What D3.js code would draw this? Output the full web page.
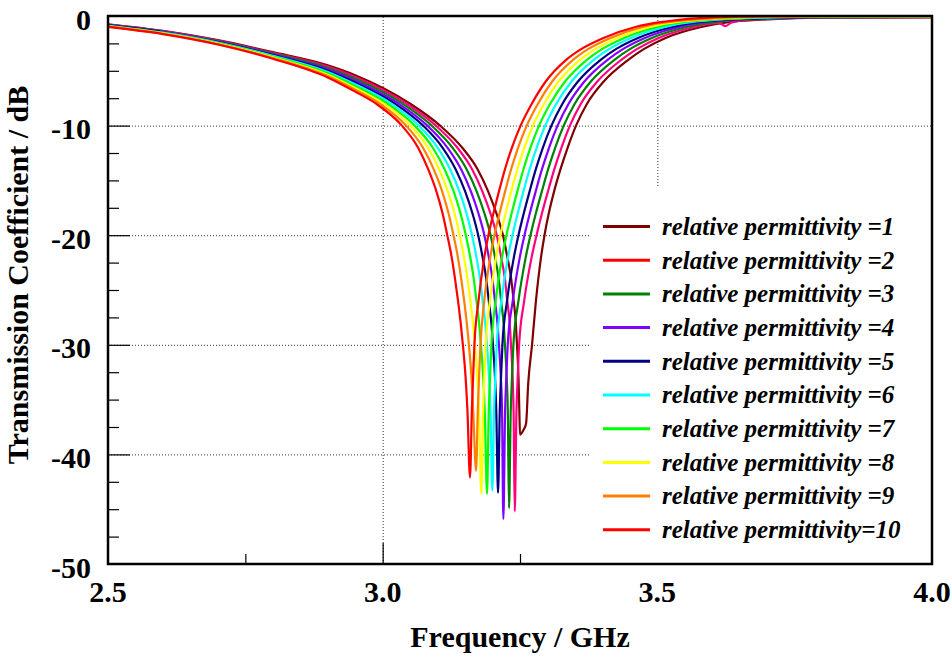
<!DOCTYPE html>
<html>
<head>
<meta charset="utf-8">
<script src="https://cdn.jsdelivr.net/npm/d3@7"></script>
<style>
  body { margin: 0; background: #fff; }
  svg { display: block; font-family: "Liberation Serif", "Times New Roman", serif; }
</style>
</head>
<body>
<div id="chart"></div>
<script>
// Transmission coefficient (dB) vs frequency (GHz), one series per relative permittivity
const eps1 = [[2.5,-0.75],[2.6,-1.35],[2.7,-2.2],[2.8,-3.3],[2.9,-4.5],[2.95,-5.4],
  [3.05,-8],[3.1045,-10],[3.1446,-12],[3.173,-14],[3.192,-16],[3.207,-18],[3.219,-20],[3.227,-22],[3.234,-24],[3.2385,-26],[3.2424,-28],[3.2445,-30],[3.2473,-33],[3.2488,-36],[3.25,-38.2],
  [3.256,-37.8],[3.261,-37.2],[3.265,-33.5],[3.2719,-30],[3.279,-26],[3.2883,-22],[3.2946,-20],[3.3024,-18],[3.3121,-16],[3.3236,-14],[3.3368,-12],[3.352,-10],[3.372,-8],[3.402,-6],[3.447,-4],[3.476,-3],[3.515,-2],
  [3.58,-1],[3.64,-0.5],[3.7,-0.3],[3.8,-0.15],[4.0,-0.12]];
const eps2 = [[2.5,-0.78],[2.6,-1.38],[2.7,-2.24],[2.8,-3.37],[2.9,-4.62],[2.95,-5.57],
  [3.0431,-8],[3.0968,-10],[3.1357,-12],[3.163,-14],[3.1815,-16],[3.1961,-18],[3.2077,-20],[3.2157,-22],[3.2226,-24],[3.2268,-26],[3.2312,-28],[3.2336,-30],[3.2366,-33],[3.2383,-36],[3.2404,-45.2],
  [3.2436,-36],[3.2458,-33],[3.2484,-30],[3.2576,-26],[3.2712,-22],[3.2801,-20],[3.29,-18],[3.3009,-16],[3.3124,-14],[3.3255,-12],[3.3408,-10],[3.3608,-8],[3.3903,-6],[3.4344,-4],[3.4633,-3],[3.5024,-2],
  [3.5667,-1],[3.595,-0.7],[3.611,-0.62],[3.624,-0.92],[3.635,-0.6],[3.663,-0.36],[3.7,-0.27],[3.8,-0.13],[4.0,-0.11]];
const eps3 = [[2.5,-0.81],[2.6,-1.42],[2.7,-2.29],[2.8,-3.43],[2.9,-4.74],[2.95,-5.73],
  [3.0362,-8],[3.0891,-10],[3.1268,-12],[3.153,-14],[3.1711,-16],[3.1852,-18],[3.1965,-20],[3.2045,-22],[3.2113,-24],[3.2156,-26],[3.2201,-28],[3.2226,-30],[3.2259,-33],[3.2278,-36],[3.23,-44.9],
  [3.2332,-36],[3.2354,-33],[3.238,-30],[3.2472,-26],[3.2605,-22],[3.2691,-20],[3.2789,-18],[3.2898,-16],[3.3011,-14],[3.3142,-12],[3.3296,-10],[3.3497,-8],[3.3786,-6],[3.4219,-4],[3.4507,-3],[3.4899,-2],
  [3.5533,-1],[3.6122,-0.5],[3.7,-0.24],[3.8,-0.12],[4.0,-0.09]];
const eps4 = [[2.5,-0.83],[2.6,-1.45],[2.7,-2.33],[2.8,-3.5],[2.9,-4.87],[2.95,-5.9],
  [3.0293,-8],[3.0813,-10],[3.1178,-12],[3.143,-14],[3.1606,-16],[3.1743,-18],[3.1852,-20],[3.1932,-22],[3.1999,-24],[3.2044,-26],[3.2089,-28],[3.2117,-30],[3.2152,-33],[3.2173,-36],[3.2197,-45.9],
  [3.2229,-36],[3.2251,-33],[3.2277,-30],[3.2368,-26],[3.2497,-22],[3.2582,-20],[3.2679,-18],[3.2786,-16],[3.2899,-14],[3.303,-12],[3.3184,-10],[3.3385,-8],[3.3668,-6],[3.4093,-4],[3.438,-3],[3.4773,-2],
  [3.54,-1],[3.5983,-0.5],[3.7,-0.21],[3.8,-0.1],[4.0,-0.08]];
const eps5 = [[2.5,-0.86],[2.6,-1.48],[2.7,-2.38],[2.8,-3.57],[2.9,-4.99],[2.95,-6.07],
  [3.0224,-8],[3.0736,-10],[3.1089,-12],[3.133,-14],[3.1501,-16],[3.1634,-18],[3.1739,-20],[3.1819,-22],[3.1886,-24],[3.1932,-26],[3.1978,-28],[3.2008,-30],[3.2045,-33],[3.2068,-36],[3.21,-43.5],
  [3.2132,-36],[3.2154,-33],[3.218,-30],[3.2264,-26],[3.2389,-22],[3.2472,-20],[3.2569,-18],[3.2675,-16],[3.2787,-14],[3.2917,-12],[3.3072,-10],[3.3273,-8],[3.3551,-6],[3.3968,-4],[3.4253,-3],[3.4648,-2],
  [3.5267,-1],[3.5844,-0.5],[3.7,-0.18],[3.8,-0.08],[4.0,-0.07]];
const eps6 = [[2.5,-0.89],[2.6,-1.52],[2.7,-2.42],[2.8,-3.63],[2.9,-5.11],[2.95,-6.23],
  [3.0156,-8],[3.0659,-10],[3.1,-12],[3.123,-14],[3.1397,-16],[3.1526,-18],[3.1627,-20],[3.1707,-22],[3.1772,-24],[3.182,-26],[3.1866,-28],[3.1898,-30],[3.1938,-33],[3.1963,-36],[3.1996,-43.3],
  [3.2028,-36],[3.205,-33],[3.2076,-30],[3.2161,-26],[3.2282,-22],[3.2363,-20],[3.2459,-18],[3.2563,-16],[3.2674,-14],[3.2804,-12],[3.2959,-10],[3.3162,-8],[3.3434,-6],[3.3842,-4],[3.4127,-3],[3.4522,-2],
  [3.5133,-1],[3.5706,-0.5],[3.7,-0.14],[3.8,-0.07],[4.0,-0.05]];
const eps7 = [[2.5,-0.92],[2.6,-1.55],[2.7,-2.47],[2.8,-3.7],[2.9,-5.23],[2.95,-6.4],
  [3.0087,-8],[3.0582,-10],[3.0911,-12],[3.113,-14],[3.1292,-16],[3.1417,-18],[3.1514,-20],[3.1594,-22],[3.1659,-24],[3.1708,-26],[3.1755,-28],[3.1789,-30],[3.1831,-33],[3.1858,-36],[3.19,-43.6],
  [3.1932,-36],[3.1954,-33],[3.198,-30],[3.2057,-26],[3.2174,-22],[3.2253,-20],[3.2348,-18],[3.2452,-16],[3.2562,-14],[3.2691,-12],[3.2847,-10],[3.305,-8],[3.3317,-6],[3.3717,-4],[3.4,-3],[3.4397,-2],
  [3.5,-1],[3.5567,-0.5],[3.7,-0.11],[3.8,-0.05],[4.0,-0.04]];
const eps8 = [[2.5,-0.94],[2.6,-1.58],[2.7,-2.51],[2.8,-3.77],[2.9,-5.36],[2.95,-6.57],
  [3.0018,-8],[3.0505,-10],[3.0822,-12],[3.103,-14],[3.1187,-16],[3.1308,-18],[3.1401,-20],[3.1481,-22],[3.1545,-24],[3.1596,-26],[3.1643,-28],[3.1679,-30],[3.1724,-33],[3.1753,-36],[3.1796,-43.6],
  [3.1828,-36],[3.185,-33],[3.1876,-30],[3.1953,-26],[3.2066,-22],[3.2144,-20],[3.2238,-18],[3.234,-16],[3.245,-14],[3.2579,-12],[3.2735,-10],[3.2938,-8],[3.3199,-6],[3.3591,-4],[3.3873,-3],[3.4271,-2],
  [3.4867,-1],[3.5428,-0.5],[3.7,-0.08],[3.8,-0.03],[4.0,-0.03]];
const eps9 = [[2.5,-0.97],[2.6,-1.62],[2.7,-2.56],[2.8,-3.83],[2.9,-5.48],[2.95,-6.73],
  [2.9949,-8],[3.0427,-10],[3.0732,-12],[3.093,-14],[3.1083,-16],[3.1199,-18],[3.1289,-20],[3.1369,-22],[3.1431,-24],[3.1484,-26],[3.1531,-28],[3.157,-30],[3.1617,-33],[3.1648,-36],[3.17,-41.5],
  [3.1732,-36],[3.1754,-33],[3.178,-30],[3.1849,-26],[3.1959,-22],[3.2034,-20],[3.2128,-18],[3.2229,-16],[3.2337,-14],[3.2466,-12],[3.2623,-10],[3.2827,-8],[3.3082,-6],[3.3466,-4],[3.3747,-3],[3.4146,-2],
  [3.4733,-1],[3.5289,-0.5],[3.7,-0.05],[3.8,-0.02],[4.0,-0.01]];
const eps10 = [[2.5,-1],[2.6,-1.65],[2.7,-2.6],[2.8,-3.9],[2.9,-5.6],[2.95,-6.9],
  [2.988,-8],[3.035,-10],[3.0643,-12],[3.083,-14],[3.0978,-16],[3.109,-18],[3.1176,-20],[3.1256,-22],[3.1318,-24],[3.1372,-26],[3.142,-28],[3.146,-30],[3.151,-33],[3.1543,-36],[3.159,-42.1],
  [3.1624,-36],[3.1646,-33],[3.167,-30],[3.1745,-26],[3.1851,-22],[3.1925,-20],[3.2017,-18],[3.2117,-16],[3.2225,-14],[3.2353,-12],[3.2511,-10],[3.2715,-8],[3.2965,-6],[3.334,-4],[3.362,-3],[3.402,-2],
  [3.46,-1],[3.515,-0.5],[3.6,-0.12],[3.7,-0.02],[3.8,0],[4.0,0]];

const seriesData = [eps1, eps2, eps3, eps4, eps5, eps6, eps7, eps8, eps9, eps10];
const seriesLabels = [
  'relative permittivity =1', 'relative permittivity =2', 'relative permittivity =3',
  'relative permittivity =4', 'relative permittivity =5', 'relative permittivity =6',
  'relative permittivity =7', 'relative permittivity =8', 'relative permittivity =9',
  'relative permittivity=10'
];
const lineColors = ['#800000', '#ff0080', '#008000', '#8000ff', '#000080', '#00ffff', '#00ff00', '#ffff00', '#ff8000', '#ff0000'];
// legend swatch for eps=2 is plain red in the original, unlike its curve
const swatchColors = ['#800000', '#ff0000', '#008000', '#8000ff', '#000080', '#00ffff', '#00ff00', '#ffff00', '#ff8000', '#ff0000'];

const xMajorTicks = [2.5, 3.0, 3.5, 4.0];
const xTickLabels = ['2.5', '3.0', '3.5', '4.0'];
const xMinorTicks = [2.75, 3.25, 3.75];
const yMajorTicks = [0, -10, -20, -30, -40, -50];
const yTickLabels = ['0', '-10', '-20', '-30', '-40', '-50'];
const yMinorTicks = [-2.5, -5, -7.5, -12.5, -15, -17.5, -22.5, -25, -27.5, -32.5, -35, -37.5, -42.5, -45, -47.5];

const xTitle = 'Frequency / GHz';
const yTitle = 'Transmission Coefficient / dB';

// Layout
const W = 951, H = 656;
const margin = { top: 16, right: 19, bottom: 92, left: 108 };
const width = W - margin.left - margin.right;
const height = H - margin.top - margin.bottom;

const svg = d3.select('#chart').append('svg')
  .attr('width', W)
  .attr('height', H);

const g = svg.append('g')
  .attr('transform', `translate(${margin.left},${margin.top})`);

const x = d3.scaleLinear().domain([2.5, 4.0]).range([0, width]);
const y = d3.scaleLinear().domain([-50, 0]).range([height, 0]);

// Dotted grid at interior major ticks
g.append('g')
  .attr('transform', `translate(0,${height})`)
  .call(d3.axisBottom(x).tickValues([3.0, 3.5]).tickSize(-height).tickFormat(''))
  .call(s => s.select('.domain').remove())
  .selectAll('line')
  .attr('stroke', '#333')
  .attr('stroke-dasharray', '1,2');

g.append('g')
  .call(d3.axisLeft(y).tickValues([-10, -20, -30, -40]).tickSize(-width).tickFormat(''))
  .call(s => s.select('.domain').remove())
  .selectAll('line')
  .attr('stroke', '#333')
  .attr('stroke-dasharray', '1,2');

// Solid inner ticks
g.append('g')
  .attr('transform', `translate(0,${height})`)
  .call(d3.axisBottom(x).tickValues([3.0, 3.5]).tickSize(-21).tickFormat(''))
  .call(s => s.select('.domain').remove())
  .selectAll('line').attr('stroke', '#000').attr('stroke-width', 1.2);

g.append('g')
  .attr('transform', `translate(0,${height})`)
  .call(d3.axisBottom(x).tickValues(xMinorTicks).tickSize(-10).tickFormat(''))
  .call(s => s.select('.domain').remove())
  .selectAll('line').attr('stroke', '#000').attr('stroke-width', 1.2);

g.append('g')
  .call(d3.axisLeft(y).tickValues([-10, -20, -30, -40]).tickSize(-22).tickFormat(''))
  .call(s => s.select('.domain').remove())
  .selectAll('line').attr('stroke', '#000').attr('stroke-width', 1.2);

g.append('g')
  .call(d3.axisLeft(y).tickValues(yMinorTicks).tickSize(-11).tickFormat(''))
  .call(s => s.select('.domain').remove())
  .selectAll('line').attr('stroke', '#000').attr('stroke-width', 1.2);

// Legend background hides the grid behind it
const legendX = 482, legendY = 171;
g.append('rect')
  .attr('x', legendX)
  .attr('y', legendY)
  .attr('width', width - legendX)
  .attr('height', height - legendY)
  .attr('fill', '#fff');

// Curves
const line = d3.line()
  .x(d => x(d[0]))
  .y(d => y(d[1]))
  .curve(d3.curveMonotoneX);

g.selectAll('.series')
  .data(seriesData)
  .enter()
  .append('path')
  .attr('class', 'series')
  .attr('fill', 'none')
  .attr('stroke', (d, i) => lineColors[i])
  .attr('stroke-width', 2.2)
  .attr('stroke-linejoin', 'round')
  .attr('d', line);

// Frame
g.append('rect')
  .attr('width', width)
  .attr('height', height)
  .attr('fill', 'none')
  .attr('stroke', '#000')
  .attr('stroke-width', 2.5);

// Tick labels
g.selectAll('.ylab')
  .data(yMajorTicks)
  .enter()
  .append('text')
  .attr('class', 'ylab')
  .attr('x', -17)
  .attr('y', d => y(d) + 13.5)
  .attr('text-anchor', 'end')
  .style('font-size', '30px')
  .style('font-weight', 'bold')
  .text((d, i) => yTickLabels[i]);

g.selectAll('.xlab')
  .data(xMajorTicks)
  .enter()
  .append('text')
  .attr('class', 'xlab')
  .attr('x', d => x(d))
  .attr('y', height + 38)
  .attr('text-anchor', 'middle')
  .style('font-size', '30px')
  .style('font-weight', 'bold')
  .text((d, i) => xTickLabels[i]);

// Axis titles
svg.append('text')
  .attr('x', margin.left + width / 2)
  .attr('y', 647)
  .attr('text-anchor', 'middle')
  .style('font-size', '30px')
  .style('font-weight', 'bold')
  .text(xTitle);

svg.append('text')
  .attr('transform', `translate(28,${margin.top + 259}) rotate(-90)`)
  .attr('text-anchor', 'middle')
  .style('font-size', '30px')
  .style('font-weight', 'bold')
  .text(yTitle);

// Legend
const legend = g.append('g')
  .attr('transform', `translate(495, 210.5)`);

seriesLabels.forEach((label, i) => {
  const item = legend.append('g')
    .attr('transform', `translate(0, ${i * 33.7})`);

  item.append('line')
    .attr('x1', 0)
    .attr('x2', 47)
    .attr('stroke', swatchColors[i])
    .attr('stroke-width', 3);

  item.append('text')
    .attr('x', 59)
    .attr('y', 8.3)
    .style('font-size', '25px')
    .style('font-weight', 'bold')
    .style('font-style', 'italic')
    .text(label);
});
</script>
</body>
</html>
